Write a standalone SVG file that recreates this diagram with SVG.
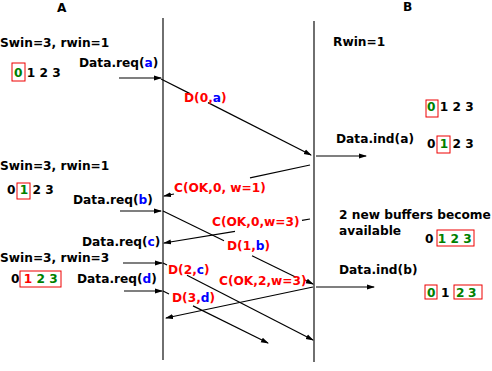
<svg xmlns="http://www.w3.org/2000/svg" width="492" height="371" viewBox="0 0 492 371">
<style>
text{font-family:"DejaVu Sans","Liberation Sans",sans-serif;font-weight:bold;font-size:12.2px;fill:#000}
.r{fill:#f00}.b{fill:#00f}.g{fill:#008000}
.box{fill:none;stroke:#e00;stroke-width:1}
.tl{stroke:#222;stroke-width:1.3}
.c line,.c path{stroke:#000;stroke-width:1.2;fill:none}
</style>
<defs>
<marker id="ah" markerUnits="userSpaceOnUse" markerWidth="8" markerHeight="6" refX="7" refY="3" orient="auto">
<path d="M0,0.5 L8,3 L0,5.5 z" fill="#000"/>
</marker>
</defs>
<rect width="492" height="371" fill="#fff"/>
<g id="timelineA"><line class="tl" x1="163" y1="18" x2="163" y2="360"/><text x="57" y="12">A</text></g>
<g id="timelineB"><line class="tl" x1="314" y1="21" x2="314" y2="362"/><text x="403" y="11">B</text></g>
<g class="c" id="connectors">
<line x1="119" y1="78" x2="161" y2="78" marker-end="url(#ah)"/>
<line x1="161" y1="79" x2="190" y2="93.6"/>
<line x1="208" y1="102.6" x2="311" y2="155" marker-end="url(#ah)"/>
<line x1="316" y1="156" x2="366" y2="156" marker-end="url(#ah)"/>
<line x1="310" y1="165" x2="250" y2="177.8"/>
<line x1="174" y1="194" x2="164" y2="196" marker-end="url(#ah)"/>
<line x1="120" y1="211" x2="161" y2="211" marker-end="url(#ah)"/>
<line x1="163" y1="211" x2="224" y2="240.7"/>
<line x1="252" y1="255.8" x2="296" y2="277.2"/>
<line x1="304" y1="279.6" x2="313" y2="284" marker-end="url(#ah)"/>
<line x1="310" y1="219" x2="302" y2="220.3"/>
<line x1="235" y1="231.4" x2="164" y2="243" marker-end="url(#ah)"/>
<line x1="123" y1="263" x2="162" y2="263" marker-end="url(#ah)"/>
<line x1="163" y1="263" x2="167" y2="265"/>
<line x1="187" y1="275.3" x2="313" y2="340" marker-end="url(#ah)"/>
<line x1="124" y1="291" x2="162" y2="291" marker-end="url(#ah)"/>
<line x1="163" y1="291" x2="169" y2="294"/>
<line x1="193" y1="305.9" x2="268" y2="343" marker-end="url(#ah)"/>
<line x1="313" y1="287" x2="166" y2="318" marker-end="url(#ah)"/>
<line x1="316" y1="287" x2="374" y2="287" marker-end="url(#ah)"/>
</g>
<g id="stateA1"><text x="0" y="47">Swin=3, rwin=1</text><text x="14" y="77"><tspan class="g">0</tspan> 1 2 3</text><rect class="box" x="12" y="63" width="13" height="18"/></g>
<g id="reqA"><text x="79" y="67">Data.req(<tspan class="b">a</tspan>)</text></g>
<g id="d0a"><text x="184" y="102" class="r">D(0,<tspan class="b">a</tspan>)</text></g>
<g id="rwin"><text x="333" y="46">Rwin=1</text></g>
<g id="stateB1"><text x="427" y="111"><tspan class="g">0</tspan> 1 2 3</text><rect class="box" x="426" y="100" width="12" height="17"/></g>
<g id="indA"><text x="336" y="143">Data.ind(a)</text></g>
<g id="stateB2"><text x="427" y="148">0 <tspan class="g">1</tspan> 2 3</text><rect class="box" x="437" y="136" width="13" height="17"/></g>
<g id="stateA2"><text x="0" y="170">Swin=3, rwin=1</text><text x="7" y="194">0 <tspan class="g">1</tspan> 2 3</text><rect class="box" x="17" y="183" width="13" height="16"/></g>
<g id="reqB"><text x="73" y="204">Data.req(<tspan class="b">b</tspan>)</text></g>
<g id="ack1"><text x="174" y="192" class="r">C(OK,0, w=1)</text></g>
<g id="ack2"><text x="212" y="226" class="r">C(OK,0,w=3)</text></g>
<g id="buffers"><text x="339" y="219">2 new buffers become</text><text x="339" y="235">available</text></g>
<g id="stateB3"><text x="425" y="243">0 <tspan class="g">1 2 3</tspan></text><rect class="box" x="437" y="230" width="37" height="16"/></g>
<g id="d1b"><text x="227" y="250" class="r">D(1,<tspan class="b">b</tspan>)</text></g>
<g id="reqC"><text x="82" y="246">Data.req(<tspan class="b">c</tspan>)</text></g>
<g id="stateA3"><text x="0" y="262">Swin=3, rwin=3</text><text x="11" y="283">0 <tspan class="r">1</tspan> <tspan class="g">2 3</tspan></text><rect class="box" x="20" y="271" width="41" height="16"/></g>
<g id="reqD"><text x="77" y="283">Data.req(<tspan class="b">d</tspan>)</text></g>
<g id="d2c"><text x="168" y="274" class="r">D(2,<tspan class="b">c</tspan>)</text></g>
<g id="ack3"><text x="219" y="285" class="r">C(OK,2,w=3)</text></g>
<g id="d3d"><text x="172" y="302" class="r">D(3,<tspan class="b">d</tspan>)</text></g>
<g id="indB"><text x="339" y="274">Data.ind(b)</text></g>
<g id="stateB4"><text y="297"><tspan class="g" x="427">0</tspan><tspan x="441">1</tspan><tspan class="g" x="456">2</tspan><tspan class="g" x="468">3</tspan></text><rect class="box" x="425" y="285" width="12" height="14"/><rect class="box" x="454" y="285" width="28" height="14"/></g>
</svg>
